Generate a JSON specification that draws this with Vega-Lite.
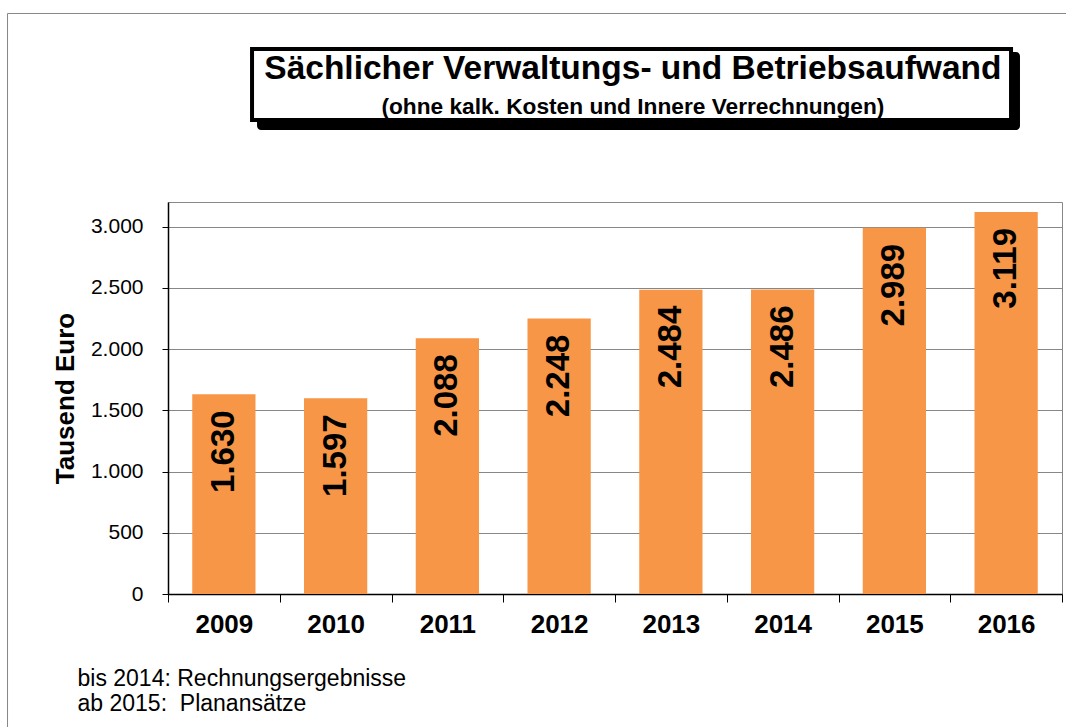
{
  "$schema": "https://vega.github.io/schema/vega-lite/v6.json",
  "width": 894,
  "height": 392,
  "autosize": {"type": "none"},
  "padding": {"left": 168, "top": 202, "right": 4, "bottom": 133},
  "background": "white",
  "config": {
    "font": "Liberation Sans",
    "locale": {"number": {"decimal": ",", "thousands": ".", "grouping": [3], "currency": ["", " €"]}},
    "view": {"stroke": "#878787", "strokeWidth": 1}
  },
  "resolve": {"scale": {"x": "independent"}, "axis": {"x": "independent"}},
  "layer": [
    {
      "data": {"values": [{}]},
      "layer": [
        {
          "mark": {"type": "rect", "filled": false, "stroke": "#878787", "strokeWidth": 1},
          "encoding": {
            "x": {"datum": -0.1795, "type": "quantitative", "scale": {"domain": [0, 1], "nice": false, "zero": false}, "axis": null},
            "x2": {"datum": 1.02},
            "y": {"datum": 4738.8, "type": "quantitative", "scale": {"domain": [0, 3200], "nice": false}},
            "y2": {"datum": -1300}
          }
        },
        {
          "mark": {"type": "rect", "fill": "black", "cornerRadius": 4},
          "encoding": {
            "x": {"datum": 0.0996, "type": "quantitative", "scale": {"domain": [0, 1], "nice": false, "zero": false}, "axis": null},
            "x2": {"datum": 0.953},
            "y": {"datum": 4424.5, "type": "quantitative", "scale": {"domain": [0, 3200], "nice": false}},
            "y2": {"datum": 3787.8}
          }
        },
        {
          "mark": {"type": "rect", "fill": "white", "stroke": "black", "strokeWidth": 4},
          "encoding": {
            "x": {"datum": 0.094, "type": "quantitative", "scale": {"domain": [0, 1], "nice": false, "zero": false}, "axis": null},
            "x2": {"datum": 0.943},
            "y": {"datum": 4449, "type": "quantitative", "scale": {"domain": [0, 3200], "nice": false}},
            "y2": {"datum": 3869.4}
          }
        },
        {
          "mark": {"type": "text", "align": "center", "baseline": "alphabetic", "fontSize": 33.5, "fontWeight": "bold", "color": "black", "text": "Sächlicher Verwaltungs- und Betriebsaufwand"},
          "encoding": {
            "x": {"datum": 0.52, "type": "quantitative", "scale": {"domain": [0, 1], "nice": false, "zero": false}, "axis": null},
            "y": {"datum": 4204, "type": "quantitative", "scale": {"domain": [0, 3200], "nice": false}}
          }
        },
        {
          "mark": {"type": "text", "align": "center", "baseline": "alphabetic", "fontSize": 22.7, "fontWeight": "bold", "color": "black", "text": "(ohne kalk. Kosten und Innere Verrechnungen)"},
          "encoding": {
            "x": {"datum": 0.52, "type": "quantitative", "scale": {"domain": [0, 1], "nice": false, "zero": false}, "axis": null},
            "y": {"datum": 3918.4, "type": "quantitative", "scale": {"domain": [0, 3200], "nice": false}}
          }
        }
      ]
    },
    {
      "data": {
        "values": [
          {"year": "2009", "value": 1630},
          {"year": "2010", "value": 1597},
          {"year": "2011", "value": 2088},
          {"year": "2012", "value": 2248},
          {"year": "2013", "value": 2484},
          {"year": "2014", "value": 2486},
          {"year": "2015", "value": 2989},
          {"year": "2016", "value": 3119}
        ]
      },
      "encoding": {
        "x": {
          "field": "year",
          "type": "nominal",
          "sort": null,
          "scale": {"paddingInner": 0, "paddingOuter": 0},
          "axis": {
            "title": ["bis 2014: Rechnungsergebnisse", "ab 2015:\u00a0 Planansätze"],
            "titleFontSize": 23,
            "titleFontWeight": "normal",
            "titleColor": "black",
            "titleX": -91,
            "titleY": 91,
            "titleAlign": "left",
            "titleBaseline": "alphabetic",
            "titleLineHeight": 25,
            "labelAngle": 0,
            "labelFontSize": 26,
            "labelFontWeight": "bold",
            "labelColor": "black",
            "labelPadding": 9,
            "tickBand": "extent",
            "tickSize": 8,
            "tickColor": "black",
            "domainColor": "black",
            "domainWidth": 1.5,
            "grid": false
          }
        },
        "y": {
          "field": "value",
          "type": "quantitative",
          "scale": {"domain": [0, 3200], "nice": false},
          "axis": {
            "values": [0, 500, 1000, 1500, 2000, 2500, 3000],
            "labelExpr": "format(datum.value, ',d')",
            "title": "Tausend Euro",
            "titleFontSize": 26,
            "titleFontWeight": "bold",
            "titleColor": "black",
            "titlePadding": 12,
            "labelFontSize": 21,
            "labelColor": "black",
            "labelPadding": 19,
            "tickSize": 6,
            "tickColor": "black",
            "domainColor": "black",
            "domainWidth": 1.5,
            "grid": true,
            "gridColor": "#878787",
            "gridWidth": 1
          }
        }
      },
      "layer": [
        {"mark": {"type": "bar", "color": "#F79646", "width": {"band": 0.566}}},
        {
          "mark": {"type": "text", "angle": 270, "align": "right", "baseline": "middle", "dx": -16, "fontSize": 33, "fontWeight": "bold", "color": "black"},
          "encoding": {"text": {"field": "value", "type": "quantitative", "format": ","}}
        }
      ]
    }
  ]
}
